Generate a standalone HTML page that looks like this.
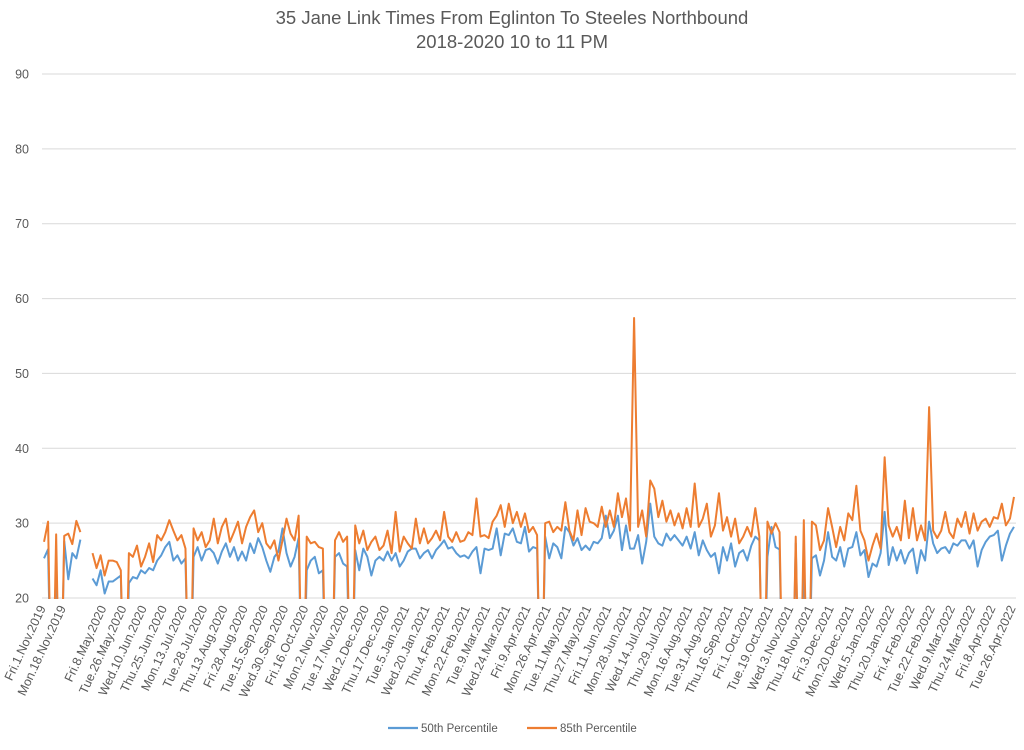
<!DOCTYPE html>
<html><head><meta charset="utf-8">
<style>
html,body{margin:0;padding:0;background:#fff;}
body{width:1024px;height:745px;overflow:hidden;font-family:"Liberation Sans",sans-serif;}
svg text{font-family:"Liberation Sans",sans-serif;fill:#595959;}
</style></head>
<body>
<svg id="chart" width="1024" height="745" xmlns="http://www.w3.org/2000/svg">
<text x="512" y="24" text-anchor="middle" font-size="18.5">35 Jane Link Times From Eglinton To Steeles Northbound</text>
<text x="512" y="48" text-anchor="middle" font-size="18.5">2018-2020 10 to 11 PM</text>
<g id="grid"></g>
<g id="yticks"></g>
<g id="xticks"></g>
<defs><clipPath id="plotclip"><rect x="42" y="60" width="980" height="539"/></clipPath></defs>
<g id="series" clip-path="url(#plotclip)"></g>
<g>
<line x1="388" y1="728" x2="418" y2="728" stroke="#5b9bd5" stroke-width="2.2"/>
<text x="421" y="732" font-size="11.5">50th Percentile</text>
<line x1="527" y1="728" x2="557" y2="728" stroke="#ed7d31" stroke-width="2.2"/>
<text x="560" y="732" font-size="11.5">85th Percentile</text>
</g>
</svg>
<script>
const yTicks=[20,30,40,50,60,70,80,90];
const xLabels=["Fri.1.Nov.2019","Mon.18.Nov.2019","","Fri.8.May.2020","Tue.26.May.2020","Wed.10.Jun.2020","Thu.25.Jun.2020","Mon.13.Jul.2020","Tue.28.Jul.2020","Thu.13.Aug.2020","Fri.28.Aug.2020","Tue.15.Sep.2020","Wed.30.Sep.2020","Fri.16.Oct.2020","Mon.2.Nov.2020","Tue.17.Nov.2020","Wed.2.Dec.2020","Thu.17.Dec.2020","Tue.5.Jan.2021","Wed.20.Jan.2021","Thu.4.Feb.2021","Mon.22.Feb.2021","Tue.9.Mar.2021","Wed.24.Mar.2021","Fri.9.Apr.2021","Mon.26.Apr.2021","Tue.11.May.2021","Thu.27.May.2021","Fri.11.Jun.2021","Mon.28.Jun.2021","Wed.14.Jul.2021","Thu.29.Jul.2021","Mon.16.Aug.2021","Tue.31.Aug.2021","Thu.16.Sep.2021","Fri.1.Oct.2021","Tue.19.Oct.2021","Wed.3.Nov.2021","Thu.18.Nov.2021","Fri.3.Dec.2021","Mon.20.Dec.2021","Wed.5.Jan.2022","Thu.20.Jan.2022","Fri.4.Feb.2022","Tue.22.Feb.2022","Wed.9.Mar.2022","Thu.24.Mar.2022","Fri.8.Apr.2022","Tue.26.Apr.2022"];
const labelEvery=5;
const p85=[27.5,30.2,0,28.5,0,28.3,28.6,27.2,30.3,28.8,null,null,
26.0,24,25.7,23,25,25,24.8,23.7,0,26,25.5,27,24.2,25.5,27.3,24.8,28.4,27.7,28.8,30.4,29,27.7,28.4,26.6,0,29.3,27.7,28.8,26.8,27.7,30.6,27.3,29.5,30.6,27.5,28.8,30.2,27.3,29.5,30.8,31.7,28.8,30,27.3,26.6,27.7,25,27.7,30.6,28.6,
27.7,31,0,28.2,27.3,27.5,26.8,26.6,0,0,27.7,28.8,27.5,28.2,0,29.7,27.3,29,26.4,27.5,28.2,26.4,27,29,26,31.5,26.2,28.2,27.3,26.6,30.6,27.3,29.3,27.3,28,29,27.7,31.5,28.2,27.5,28.8,27.5,27.7,28.8,28.4,33.3,28.2,28.4,28,30.2,31,32.4,29.5,32.6,30,31.5,29.5,31.3,
28.8,29.5,28.4,0,30,30.2,28.8,29.5,29,32.8,29,27.7,31.7,28.4,32,30.2,30,29.5,32.2,29.5,31.7,29.5,34,30.8,33.3,29,57.4,29.5,31.7,28.2,35.7,34.6,30.8,33,30.2,31.7,29.7,31.3,29.3,32,29.5,35.3,29.5,30.6,32.6,28.2,29.7,34,29,30.8,28.2,30.6,27.3,28.2,29.5,28.2,32,28.2,0,30.2,28.6,30,
28.8,0,0,0,28.2,0,30.4,0,30.2,
29.7,26.4,27.7,32,29.5,26.8,29.5,27.7,31.3,30.4,35,29,27.7,25,27,28.6,26.6,38.8,29.7,28.2,29.5,27.7,33,28,32,27.7,29.7,27.7,45.5,29,28,29,31.5,28.8,28,30.6,29.5,31.5,28.6,31.3,29,30.2,30.6,29.5,30.8,30.6,32.6,29.7,30.6,33.5];
const p50=[25.3,26.5,0,25.5,0,27.6,22.5,26,25.3,27.8,null,null,
22.6,21.7,23.7,20.6,22.2,22.2,22.6,23,0,22,22.8,22.6,23.7,23.3,24,23.7,25,25.7,26.8,27.5,25,25.7,24.6,25.3,0,25.5,26.8,25,26.4,26.6,26,24.6,26.2,27.3,25.5,26.8,25,26.2,25,27.3,26,28,26.8,25,23.5,25.5,26.2,29.3,26,24.2,
25.5,28,0,23.7,25,25.5,23.3,23.7,0,0,25.5,26,24.6,24.2,0,26.4,23.7,26.6,25.5,23,25,25.5,25,26.2,25,26,24.2,25,26.2,26.6,26.6,25.3,26,26.4,25.3,26.4,27,27.7,26.6,26.8,26,25.5,25.7,25.3,26.2,26.8,23.3,26.6,26.4,26.6,29.3,25.7,28.6,28.4,29.3,27.5,27.3,29.5,
26.2,26.8,26.6,0,28.2,25.3,27.3,26.8,25.3,29.5,28.8,27,28,26.4,27,26.4,27.5,27.3,28,31,28,29,31,26.4,29.7,26.6,26.6,28.4,24.6,27.5,32.6,28.2,27.3,27,28.6,27.7,28.4,27.7,27,28.2,26.6,28.8,25.7,27.7,26.4,25.5,26,23.3,26.8,25,27.3,24.2,26,26.4,25,27,28.2,27.7,0,25.5,29.5,26.8,
26.5,0,0,0,27.3,0,25.5,0,25.3,
25.7,23,25,28.8,25.5,25,26.8,24.2,26.6,26.8,28.8,25.7,26.4,22.8,24.6,24.2,26,31.5,24.4,26.8,25,26.4,24.6,26,26.6,23.3,26.4,25,30.2,27.3,26,26.6,26.8,26,27.3,27,27.7,27.7,26.6,27.7,24.2,26.4,27.5,28.2,28.4,29,25,27,28.6,29.5];

const NS="http://www.w3.org/2000/svg";
const L=42,R=1016,T=74,B=598,yMin=20,yMax=90;
const N=Math.max(p85.length,p50.length);
const bw=(R-L)/N;
function xs(i){return L+(i+0.5)*bw;}
function ys(v){return B-(v-yMin)/(yMax-yMin)*(B-T);}
const grid=document.getElementById('grid'),yt=document.getElementById('yticks'),xt=document.getElementById('xticks'),sg=document.getElementById('series');
yTicks.forEach(v=>{
  const ln=document.createElementNS(NS,'line');
  
  
  ln.setAttribute('x1',L);ln.setAttribute('x2',R);ln.setAttribute('y1',ys(v));ln.setAttribute('y2',ys(v));
  ln.setAttribute('stroke','#d9d9d9');ln.setAttribute('stroke-width','1');
  grid.appendChild(ln);
  const t=document.createElementNS(NS,'text');
  
  
  t.setAttribute('x',29);t.setAttribute('y',ys(v)+4.5);t.setAttribute('text-anchor','end');t.setAttribute('font-size','12.5');
  t.textContent=v;yt.appendChild(t);
});
xLabels.forEach((s,k)=>{
  if(!s)return;
  const x=xs(k*labelEvery);
  const t=document.createElementNS(NS,'text');
  
  
  t.setAttribute('text-anchor','end');t.setAttribute('font-size','12.5');
  t.setAttribute('transform','translate('+(x+2)+',608) rotate(-65)');
  t.textContent=s;xt.appendChild(t);
});
function drawSeries(arr,color,name){
  let d='',pen=false;
  arr.forEach((v,i)=>{
    if(v===null){pen=false;return;}
    d+=(pen?'L':'M')+xs(i).toFixed(2)+' '+ys(v).toFixed(2)+' ';pen=true;
  });
  const p=document.createElementNS(NS,'path');
  
  
  p.setAttribute('d',d);p.setAttribute('fill','none');p.setAttribute('stroke',color);
  p.setAttribute('stroke-width','2');p.setAttribute('stroke-linejoin','round');
  sg.appendChild(p);
}
drawSeries(p50,'#5b9bd5','series-50th-percentile');
drawSeries(p85,'#ed7d31','series-85th-percentile');
</script>
</body></html>
